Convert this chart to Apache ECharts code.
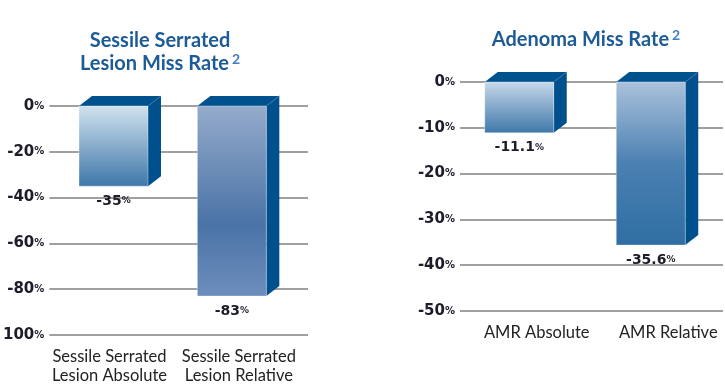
<!DOCTYPE html>
<html><head><meta charset="utf-8">
<script src="https://cdn.jsdelivr.net/npm/echarts@6/dist/echarts.min.js"></script>
<style>html,body{margin:0;padding:0;background:#fff}#c{width:725px;height:385px}</style>
</head><body><div id="c"></div>
<script>
// ---- data ----
var leftCategories = ['Sessile Serrated\nLesion Absolute', 'Sessile Serrated\nLesion Relative'];
var leftValues = [-35, -83];
var leftTicks = ['0%', '-20%', '-40%', '-60%', '-80%', '100%'];
var rightCategories = ['AMR Absolute', 'AMR Relative'];
var rightValues = [-11.1, -35.6];
var rightTicks = ['0%', '-10%', '-20%', '-30%', '-40%', '-50%'];

// ---- styles ----
var FONT = 'Lato';
var NUMFONT = 'DejaVu Sans';
var dark = '#1c1c2a';
var sideColor = '#00508e';
var barShift = [[6, -5], [0, 0]];
var gradients = [
  [ ['#d2e2ef', '#3d77a9'], [['#95abcb',0],['#4a73a6',0.62],['#6d8ebd',1]] ],
  [ ['#c8d9ea', '#3d77a9'], [['#aac2db',0],['#4b80b2',0.5],['#2f6ea3',1]] ]
];
function grad(spec){
  var stops = [];
  if (typeof spec[0] === 'string') { stops = [{offset:0,color:spec[0]},{offset:1,color:spec[1]}]; }
  else { stops = spec.map(function(s){return {offset:s[1],color:s[0]};}); }
  return new echarts.graphic.LinearGradient(0,0,0,1,stops);
}
function makeRender(gi){
  return function(params, api){
    var idx = api.value(0), v = api.value(1);
    var p0 = api.coord([idx, 0]);
    var p1 = api.coord([idx, v]);
    var fw = 69, dx = 13, dy = 10;
    var x0 = p0[0] - (fw + dx) / 2 + barShift[gi][params.dataIndex];
    var yt = p0[1], yb = p1[1];
    return {
      type: 'group',
      children: [
        { type: 'polygon', shape: { points: [[x0+fw, yt], [x0+fw+dx, yt-dy], [x0+fw+dx, yb-dy], [x0+fw, yb]] },
          style: { fill: sideColor } },
        { type: 'polygon', shape: { points: [[x0, yt], [x0+dx, yt-dy], [x0+fw+dx, yt-dy], [x0+fw, yt]] },
          style: { fill: '#00528f' } },
        { type: 'line', shape: { x1: x0+fw, y1: yt, x2: x0+fw+dx, y2: yt-dy }, style: { stroke: '#3d74a6', lineWidth: 1 } },
        { type: 'rect', shape: { x: x0, y: yt, width: fw, height: yb - yt },
          style: { fill: grad(gradients[gi][params.dataIndex]), stroke: 'rgba(255,255,255,0.35)', lineWidth: 1 } },
        { type: 'text', x: x0 + fw/2, y: yb + 15,
          style: { text: '{n|' + String(v) + '}{p|%}', align: 'center', verticalAlign: 'middle',
            rich: { n: { fontFamily: NUMFONT, fontWeight: 'bold', fontSize: 14, fill: dark },
                    p: { fontFamily: NUMFONT, fontWeight: 'bold', fontSize: 9, fill: dark } } } }
      ]
    };
  };
}
function tickFmt(ticks, step){
  return function(val){
    var i = Math.round(-val / step);
    var t = ticks[i] || '';
    return '{n|' + t.replace('%','') + '}{p|%}';
  };
}
var yRich = { n: { fontFamily: NUMFONT, fontWeight: 'bold', fontSize: 15, color: dark },
              p: { fontFamily: NUMFONT, fontWeight: 'bold', fontSize: 10, color: dark } };
var titleRich = { t: { fontFamily: FONT, fontWeight: 'bold', fontSize: 20, color: '#1d5b96', lineHeight: 23 },
                  s: { fontFamily: FONT, fontSize: 14, color: '#3f7fc0', verticalAlign: 'top', padding: [0,0,8,3] } };

var chart = echarts.init(document.getElementById('c'), null, { renderer: 'canvas' });
chart.setOption({
  animation: false,
  title: [
    { text: '{t|Sessile Serrated}\n{t|Lesion Miss Rate}{s|2}', left: 155, top: 24, textAlign: 'center',
      textStyle: { rich: titleRich } },
    { text: '{t|Adenoma Miss Rate}{s|2}', left: 581, top: 23, textAlign: 'center',
      textStyle: { rich: titleRich } }
  ],
  grid: [
    { left: 48, right: 417, top: 106, bottom: 49 },
    { left: 460, right: 2, top: 82, bottom: 74 }
  ],
  xAxis: [
    { gridIndex: 0, type: 'category', data: leftCategories, position: 'bottom',
      axisLine: { show: false }, axisTick: { show: false },
      axisLabel: { interval: 0, hideOverlap: false, margin: 12, fontFamily: FONT, fontSize: 16.5, color: '#222',
        lineHeight: 19, padding: [0, 9, 0, 0] } },
    { gridIndex: 1, type: 'category', data: rightCategories, position: 'bottom',
      axisLine: { show: false }, axisTick: { show: false },
      axisLabel: { interval: 0, hideOverlap: false, margin: 13, fontFamily: FONT, fontSize: 16.5, color: '#222',
        padding: [0, 0, 0, 22] } }
  ],
  yAxis: [
    { gridIndex: 0, type: 'value', min: -100, max: 0, interval: 20,
      axisLine: { show: false }, axisTick: { show: false },
      splitLine: { lineStyle: { color: '#a0a0a0', width: 2 } },
      axisLabel: { margin: 5, formatter: tickFmt(leftTicks, 20), rich: yRich } },
    { gridIndex: 1, type: 'value', min: -50, max: 0, interval: 10,
      axisLine: { show: false }, axisTick: { show: false },
      splitLine: { lineStyle: { color: '#a0a0a0', width: 2 } },
      axisLabel: { margin: 5, formatter: tickFmt(rightTicks, 10), rich: yRich } }
  ],
  series: [
    { type: 'custom', xAxisIndex: 0, yAxisIndex: 0, renderItem: makeRender(0),
      data: leftValues.map(function(v, i){ return [i, v]; }), clip: false },
    { type: 'custom', xAxisIndex: 1, yAxisIndex: 1, renderItem: makeRender(1),
      data: rightValues.map(function(v, i){ return [i, v]; }), clip: false }
  ]
});
</script></body></html>
